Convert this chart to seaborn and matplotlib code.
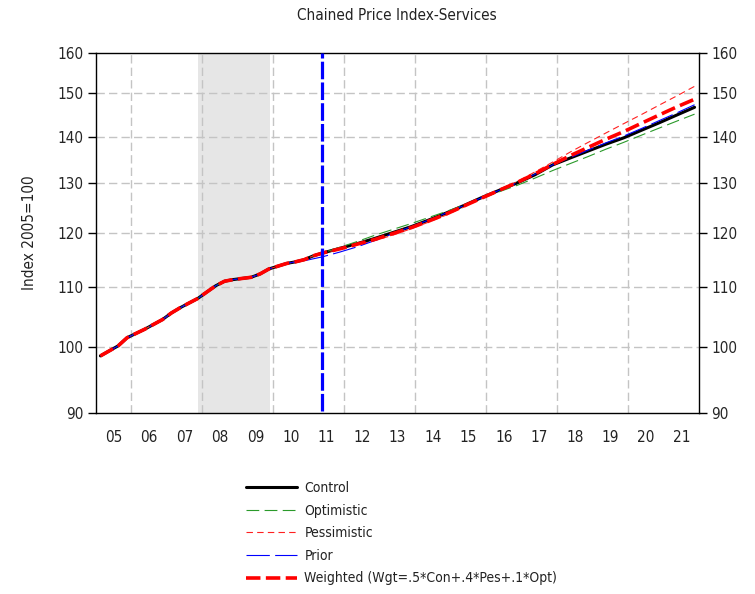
import numpy as np
import matplotlib
matplotlib.use("Agg")
import matplotlib.pyplot as plt
import matplotlib.ticker as mticker
import seaborn as sns

# history, quarterly (quarter centres)
hist_x = [2005.125, 2005.375, 2005.625, 2005.875, 2006.125, 2006.375, 2006.625, 2006.875,
          2007.125, 2007.375, 2007.625, 2007.875, 2008.125, 2008.375, 2008.625, 2008.875,
          2009.125, 2009.375, 2009.625, 2009.875, 2010.125, 2010.375, 2010.625, 2010.875,
          2011.125, 2011.375]
hist_y = [98.6, 99.4, 100.2, 101.5, 102.2, 102.9, 103.7, 104.5,
          105.6, 106.5, 107.3, 108.1, 109.2, 110.3, 111.1, 111.4,
          111.6, 111.8, 112.4, 113.3, 113.8, 114.3, 114.6, 115.0,
          115.7, 116.2]

# forecasts, half-yearly
fc_x = [2011.875, 2012.375, 2012.875, 2013.375, 2013.875, 2014.375, 2014.875,
        2015.375, 2015.875, 2016.375, 2016.875, 2017.375, 2017.875, 2018.375, 2018.875,
        2019.375, 2019.875, 2020.375, 2020.875, 2021.375, 2021.875]
control = [117.1, 118.0, 119.0, 120.1, 121.2, 122.5, 123.9,
           125.4, 127.0, 128.5, 130.0, 131.7, 133.8, 135.3, 136.8,
           138.3, 139.7, 141.4, 143.1, 144.9, 146.7]
optimistic = [117.3, 118.4, 119.6, 120.7, 121.8, 123.0, 124.2,
              125.5, 126.8, 128.2, 129.5, 131.0, 132.6, 134.1, 135.6,
              137.2, 138.7, 140.3, 141.9, 143.5, 145.1]
pessimistic = [116.9, 117.7, 118.6, 119.6, 120.8, 122.1, 123.5,
               125.1, 126.8, 128.5, 130.3, 132.3, 134.4, 136.6, 138.7,
               140.8, 142.9, 145.0, 147.2, 149.4, 151.7]
weighted = [117.0, 117.9, 118.8, 119.9, 121.0, 122.3, 123.7,
            125.3, 126.9, 128.5, 130.1, 131.9, 133.9, 135.8, 137.6,
            139.4, 141.1, 143.0, 144.9, 146.8, 148.6]
# prior vintage splits off history earlier
prior_x = [2010.375, 2010.875, 2011.375] + fc_x
prior = [114.3, 114.8, 115.5, 116.4, 117.4, 118.6, 119.9, 121.2, 122.5, 123.9,
         125.4, 127.0, 128.5, 130.0, 131.8, 133.8, 135.4, 137.0,
         138.6, 140.1, 141.8, 143.6, 145.4, 147.3]

recession = (2007.87, 2009.9)
forecast_start = 2011.37
year_labels = ["05", "06", "07", "08", "09", "10", "11", "12", "13", "14",
               "15", "16", "17", "18", "19", "20", "21"]
y_ticks = [90, 100, 110, 120, 130, 140, 150, 160]

sns.set_style("white")
plt.rcParams["font.family"] = ["DejaVu Sans"]
plt.rcParams["font.stretch"] = "condensed"
plt.rcParams["text.color"] = "#222222"

fig = plt.figure(figsize=(7.55, 5.94), dpi=100)
ax = fig.add_axes([96 / 755, 1 - 413 / 594, 603 / 755, 360 / 594])

ax.axvspan(*recession, color="#e6e6e6", lw=0, zorder=0)
for g in range(2006, 2022, 2):
    ax.axvline(g, color="#c4c4c4", lw=1, ls=(0, (6, 3)), zorder=0.5)
for t in y_ticks[1:-1]:
    ax.axhline(t, color="#c4c4c4", lw=1, ls=(0, (6, 3)), zorder=0.5)

series = [
    ("Control", hist_x + fc_x, hist_y + control, "black", 2.2, "-"),
    ("Optimistic", hist_x + fc_x, hist_y + optimistic, "#2a9a2a", 0.8, (0, (11.5, 4.8))),
    ("Pessimistic", hist_x + fc_x, hist_y + pessimistic, "#ff2020", 0.8, (0, (5.8, 3.8))),
    ("Prior", hist_x[:-3] + prior_x, hist_y[:-3] + prior, "#0000ff", 0.8, (0, (21, 4.8))),
    ("Weighted (Wgt=.5*Con+.4*Pes+.1*Opt)", hist_x + fc_x, hist_y + weighted, "#ff0000", 2.6, (0, (4.0, 1.5))),
]
for name, xs, ys, col, lw, ls in series:
    sns.lineplot(x=xs, y=ys, ax=ax, color=col, lw=lw, linestyle=ls, label=name,
                 legend=False, zorder=3)

ax.plot([forecast_start, forecast_start], [90.3, 160], color="#0000ff", lw=2.3,
        ls=(0, (5.5, 1)), zorder=4)

ax.set_yscale("log")
ax.set_ylim(90, 160)
ax.yaxis.set_major_locator(mticker.FixedLocator(y_ticks))
ax.yaxis.set_major_formatter(mticker.FixedFormatter([str(t) for t in y_ticks]))
ax.yaxis.set_minor_locator(mticker.NullLocator())
ax.set_xlim(2005, 2022)
ax.set_xticks(np.arange(2005, 2023))
ax.set_xticklabels([])
ax.set_xticks(np.arange(2005, 2022, 0.25), minor=True)
ax.tick_params(axis="x", which="major", direction="out", length=6, width=1, color="black")
ax.tick_params(axis="x", which="minor", direction="out", length=3, width=1, color="black")
ax.tick_params(axis="y", direction="out", length=6, width=1, color="black",
               left=True, right=True, labelleft=True, labelright=True, labelsize=11, pad=3)
for i, lab in enumerate(year_labels):
    ax.text(2005.5 + i, -0.069, lab, transform=ax.get_xaxis_transform(),
            ha="center", va="center", fontsize=11)
for s in ax.spines.values():
    s.set_color("black")
    s.set_linewidth(1)
ax.set_xlabel("")
ax.set_ylabel("")

fig.text(397 / 755, 1 - 16 / 594, "Chained Price Index-Services", ha="center", va="center", fontsize=11)
fig.text(30 / 755, 1 - 233 / 594, "Index 2005=100", rotation=90, ha="center", va="center", fontsize=11)

handles, labels = ax.get_legend_handles_labels()
fig.legend(handles, labels, loc="upper left", bbox_to_anchor=(246 / 755, 1 - 481 / 594),
           frameon=False, fontsize=10, handlelength=3.7, handletextpad=0.5,
           labelspacing=0.62, borderpad=0, borderaxespad=0)

fig.savefig("out.png", dpi=100)
